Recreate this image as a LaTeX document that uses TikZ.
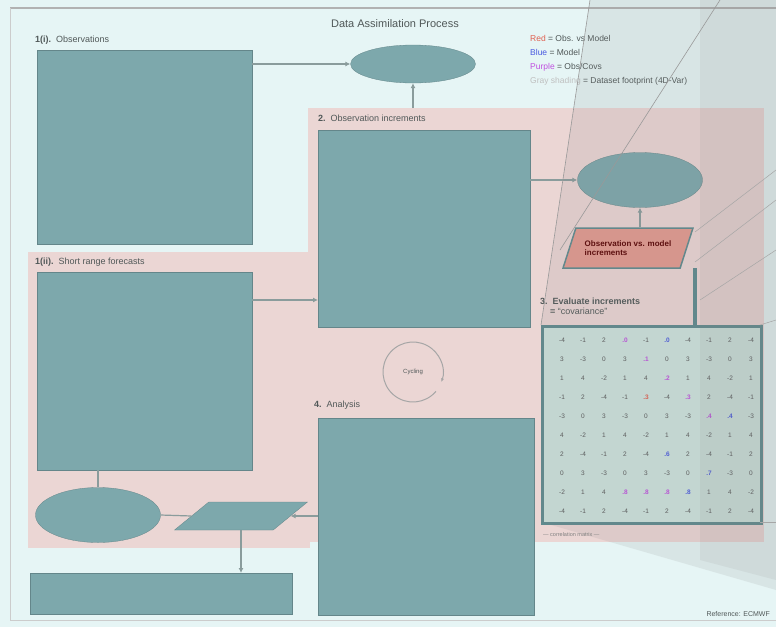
\documentclass[tikz,border=0pt]{standalone}
\usepackage{fontspec}
\setmainfont{Liberation Sans}
\usetikzlibrary{shapes.geometric,arrows.meta}
\definecolor{bgc}{HTML}{E6F5F5}
\definecolor{tealc}{HTML}{7DA8AC}
\definecolor{pinkc}{HTML}{EBD6D4}
\definecolor{salmonc}{HTML}{E39A8F}
\definecolor{matc}{HTML}{CDE3DE}
\definecolor{tdark}{HTML}{5E8A8E}
\definecolor{lblc}{HTML}{505858}
\definecolor{arrc}{HTML}{8A9C9C}
\definecolor{purpc}{HTML}{C050E0}
\definecolor{bluec}{HTML}{4A5AE0}
\definecolor{redc}{HTML}{E06050}
\begin{document}
\begin{tikzpicture}[x=1pt,y=-1pt,
  boxs/.style={fill=tealc,draw=tealc!80!black,line width=0.3pt,anchor=north west,inner sep=0},
  ells/.style={ellipse,fill=tealc,draw=tealc!80!black,line width=0.3pt,inner sep=0},
  lbls/.style={anchor=west,text=lblc,font=\fontsize{9}{10}\selectfont,inner sep=0},
  conn/.style={draw=arrc,line width=1.2pt,-{Latex[length=5pt,width=5pt]}},
  plain/.style={draw=arrc,line width=1.2pt},
  cell/.style={font=\fontsize{6.5}{7}\selectfont,inner sep=0.6pt}]
\useasboundingbox (0,0) rectangle (776,627);
\fill[bgc] (0,0) rectangle (776,627);
\draw[gray!60,line width=1.5pt] (10,8) -- (776,8);
\draw[gray!40,line width=0.6pt] (10,8) -- (10,620) -- (776,620);
% title and legend
\node[text=lblc,font=\fontsize{11}{12}\selectfont] (title) at (395,24) {Data Assimilation Process};
\node[anchor=west,font=\fontsize{8.5}{14}\selectfont,inner sep=0,align=left] (legend) at (530,60)
 {\textcolor{redc}{Red} \textcolor{lblc}{= Obs. vs Model}\\
  \textcolor{bluec}{Blue} \textcolor{lblc}{= Model}\\
  \textcolor{purpc}{Purple} \textcolor{lblc}{= Obs/Covs}\\
  \textcolor{gray!50}{Gray shading} \textcolor{lblc}{= Dataset footprint (4D-Var)}};
% pink regions
\fill[pinkc] (28,252) rectangle (310,548);
\fill[pinkc] (308,108) rectangle (764,542);
% labels
\node[lbls] (l1) at (35,40) {\textbf{1(i).}\ \ Observations};
\node[lbls] (l2) at (318,118) {\textbf{2.}\ \ Observation increments};
\node[lbls] (l1b) at (35,262) {\textbf{1(ii).}\ \ Short range forecasts};
\node[lbls] (l4) at (314,405) {\textbf{4.}\ \ Analysis};
\node[lbls,align=left] (l3) at (540,306) {\textbf{3.\ \ Evaluate increments}\\\ \ \ \ \textbf{=} ``covariance''};
% boxes
\node[boxs,minimum width=215,minimum height=194] (obs) at (37,50) {};
\node[ells,minimum width=125,minimum height=38] (e1) at (413,64) {};
\node[boxs,minimum width=212,minimum height=197] (inc) at (318,130) {};
\node[ells,minimum width=125,minimum height=55] (e2) at (640,180) {};
\node[trapezium,trapezium left angle=62,trapezium right angle=118,trapezium stretches=true,
      minimum width=130,minimum height=40,fill=salmonc,draw=tdark,line width=1.5pt,
      align=left,font=\fontsize{8}{9}\selectfont\bfseries,text=red!35!black] (par1) at (628,248)
      {Observation vs. model\\increments};
\node[boxs,minimum width=215,minimum height=198] (fc) at (37,272) {};
\node[boxs,minimum width=216,minimum height=197] (ana) at (318,418) {};
\node[ells,minimum width=125,minimum height=55] (e3) at (98,515) {};
\node[trapezium,trapezium left angle=62,trapezium right angle=118,trapezium stretches=true,
      minimum width=133,minimum height=28,fill=tealc,draw=tealc!80!black,line width=0.3pt] (par2) at (241,516) {};
\node[boxs,minimum width=262,minimum height=41] (out) at (30,573) {};
% matrix
\node[anchor=north west,minimum width=219,minimum height=197,fill=matc,draw=tdark,line width=2.5pt] (mat) at (541,325) {};
\foreach \c/\r/\col in {3/0/purpc,4/1/purpc,5/2/purpc,6/3/purpc,7/4/purpc,5/0/bluec,4/3/redc,8/4/bluec,5/6/bluec,7/7/bluec,3/8/purpc,4/8/purpc,5/8/purpc,6/8/bluec}{
  \global\expandafter\let\csname cc-\c-\r\endcsname\col
}
\foreach \r in {0,...,9}{
  \foreach \c in {0,...,9}{
    \pgfmathtruncatemacro{\v}{mod(\r*7+\c*3,9)-4}
    \ifcsname cc-\c-\r\endcsname
      \node[cell,text=\csname cc-\c-\r\endcsname,font=\fontsize{6.5}{7}\selectfont\bfseries] at (562+21*\c,340+19*\r) {.\r};
    \else
      \node[cell,text=gray!70!black] at (562+21*\c,340+19*\r) {\v};
    \fi
  }
}
\node[anchor=west,text=gray,font=\fontsize{5.5}{6}\selectfont,inner sep=0] (cap) at (543,535) {--- correlation matrix ---};
% cycling
\coordinate (cyc) at (413,372);
\draw[gray!70,line width=1pt,-{Latex[length=4pt]}] (cyc) ++(40:30) arc (40:380:30);
\node[text=lblc,font=\fontsize{6}{7}\selectfont] (cyct) at (cyc) {Cycling};
% connectors
\draw[conn] (obs.east|-e1) -- (e1.west);
\coordinate (p2top) at (413,108);
\draw[conn] (p2top) -- (e1.south);
\draw[conn] (inc.east|-e2) -- (e2.west);
\draw[conn] (par1.north-|e2) -- (e2.south);
\draw[draw=tdark,line width=4pt] (695,268) -- (mat.north-|695,0);
\draw[conn] (fc.east|-0,300) -- (inc.west|-0,300);
\draw[plain] (fc.south-|e3) -- (e3.north);
\draw[conn] (ana.west|-par2) -- (par2.east);
\draw[plain] (par2.west) -- (e3.east);
\draw[conn] (par2.south) -- (out.north-|par2.south);
% footer
\node[anchor=east,text=lblc,font=\fontsize{7}{8}\selectfont,inner sep=0] (ref) at (770,614) {Reference: ECMWF};
% shading
\fill[gray,opacity=0.13] (541,325) -- (590,0) -- (776,0) -- (776,590) -- (541,522) -- cycle;
\fill[gray,opacity=0.10] (700,0) -- (776,0) -- (776,580) -- (700,560) -- cycle;
\draw[gray!80,line width=0.6pt] (541,325) -- (590,0);
\draw[gray!80,line width=0.6pt] (560,250) -- (720,0);
\draw[gray!70,line width=0.5pt] (695,232) -- (776,170);
\draw[gray!70,line width=0.5pt] (695,262) -- (776,200);
\draw[gray!70,line width=0.5pt] (700,300) -- (776,250);
\draw[gray!70,line width=0.5pt] (760,325) -- (776,320);
\draw[gray!70,line width=0.5pt] (760,522) -- (776,522);
\end{tikzpicture}
\end{document}
